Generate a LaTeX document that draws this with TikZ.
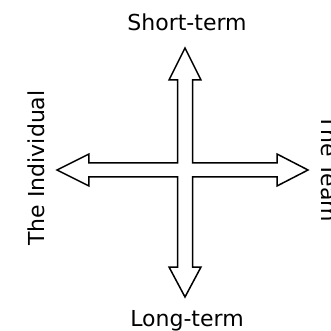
\documentclass[tikz,border=0pt]{standalone}
\usepackage{fontspec}
\setmainfont{DejaVu Sans}

\begin{document}
\begin{tikzpicture}[x=1pt, y=1pt, every node/.style={font=\fontsize{22}{26}\selectfont, inner sep=0pt}]
\useasboundingbox (-185,-161) rectangle (146,170);
% Double arrows, drawn as one outline
\draw[line width=1.5pt, line join=miter]
  (0,122) -- (16,90) -- (7.5,90) -- (7.5,7) -- (92,7) -- (92,16) -- (123,0)
  -- (92,-16) -- (92,-7) -- (7.5,-7) -- (7.5,-97) -- (16,-97) -- (0,-127)
  -- (-16,-97) -- (-7.5,-97) -- (-7.5,-7) -- (-96,-7) -- (-96,-16) -- (-128,0)
  -- (-96,16) -- (-96,7) -- (-7.5,7) -- (-7.5,90) -- (-16,90) -- cycle;
% Axis labels
\node[anchor=base] (short) at (2,139) {Short-term};
\node[anchor=base] (long) at (2,-156) {Long-term};
\node[anchor=base, rotate=90] (indiv) at (-140,2) {The Individual};
\node[anchor=base, rotate=-90] (team) at (136,1) {The Team};
\end{tikzpicture}
\end{document}
